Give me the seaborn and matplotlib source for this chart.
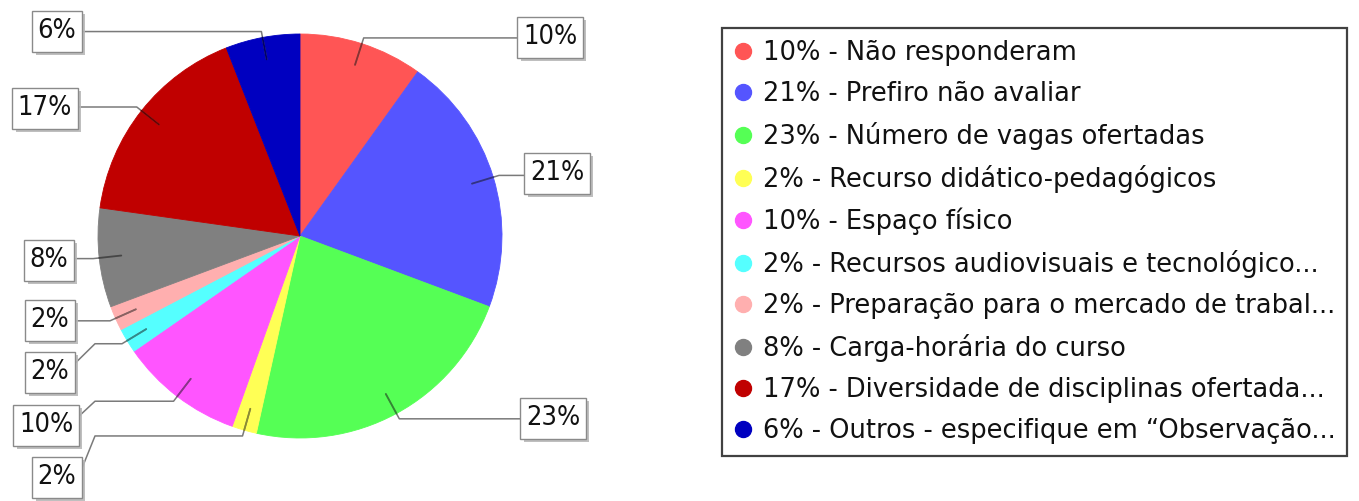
import numpy as np
import matplotlib
matplotlib.use("Agg")
import matplotlib.pyplot as plt
import seaborn as sns
from matplotlib import patheffects as pe
from matplotlib import font_manager as fm
from matplotlib.lines import Line2D
from matplotlib.patches import Rectangle
from matplotlib.colors import to_rgb

# ---- data ----
categories = [
    "Não responderam",
    "Prefiro não avaliar",
    "Número de vagas ofertadas",
    "Recurso didático-pedagógicos",
    "Espaço físico",
    "Recursos audiovisuais e tecnológico...",
    "Preparação para o mercado de trabal...",
    "Carga-horária do curso",
    "Diversidade de disciplinas ofertada...",
    "Outros - especifique em “Observação...",
]
percentages = [10, 21, 23, 2, 10, 2, 2, 8, 17, 6]
slice_colors = ["#FF5555", "#5555FF", "#55FF55", "#FFFF55", "#FF55FF",
                "#55FFFF", "#FFAFAF", "#808080", "#C00000", "#0000C0"]

# ---- layout (pixels, measured from the top-left corner) ----
W, H = 1359, 501
pie_center = (300, 236)
pie_radius = 202
label_centers = [(550, 37), (557, 173), (553, 418), (57, 477), (46, 425),
                 (50, 372), (50, 320), (49, 260), (45, 108), (57, 31)]
left_stub_x = 95
box_pad_x, box_pad_y = 5.5, 7.5

sns.set_theme(style="white")
plt.rcParams["font.family"] = ["DejaVu Sans"]

# a condensed cut of DejaVu Sans for the slice labels, if installed
label_stretch = "normal"
for f in fm.fontManager.ttflist:
    if f.name == "DejaVu Sans" and "ondensed" in f.fname and "Bold" not in f.fname and "Oblique" not in f.fname:
        label_stretch = "condensed"
        break

fig = plt.figure(figsize=(W / 100, H / 100), dpi=100)
fig.patch.set_facecolor("white")
ax = fig.add_axes([0, 0, 1, 1])

cx, cy = pie_center[0], H - pie_center[1]
palette = sns.color_palette(slice_colors)
wedges, _ = ax.pie(percentages, colors=palette, startangle=90, counterclock=False,
                   center=(cx, cy), radius=pie_radius, frame=True,
                   wedgeprops=dict(linewidth=0.6))
for w in wedges:
    w.set_edgecolor(w.get_facecolor())
ax.set_xlim(0, W)
ax.set_ylim(0, H)
ax.set_aspect("auto")
ax.set_axis_off()

# percentage labels
texts = []
for pct, (lx, ly) in zip(percentages, label_centers):
    t = ax.text(lx, H - ly, f"{pct}%", ha="center", va="center", fontsize=19.5,
                fontstretch=label_stretch, color="#111111", zorder=6)
    texts.append(t)

fig.canvas.draw()
renderer = fig.canvas.get_renderer()

boxes = []
for t in texts:
    bb = t.get_window_extent(renderer)
    x0, y0 = bb.x0 - box_pad_x, bb.y0 - box_pad_y
    bw, bh = bb.width + 2 * box_pad_x, bb.height + 2 * box_pad_y
    box = Rectangle((x0, y0), bw, bh, facecolor="white", edgecolor="#8a8a8a",
                    lw=1.0, zorder=5)
    box.set_path_effects([
        pe.SimplePatchShadow(offset=(2.5, -2.5), shadow_rgbFace="#b8b8b8", alpha=0.9),
        pe.Normal()])
    ax.add_patch(box)
    boxes.append((x0, y0, x0 + bw, y0 + bh))

# leader lines: tick inside the slice, elbow just past the rim, then out to the box
for w, (bx0, by0, bx1, by1), col in zip(wedges, boxes, slice_colors):
    mid = np.deg2rad((w.theta1 + w.theta2) / 2)
    ux, uy = np.cos(mid), np.sin(mid)
    inner = (cx + 0.89 * pie_radius * ux, cy + 0.89 * pie_radius * uy)
    rim = (cx + 1.0 * pie_radius * ux, cy + 1.0 * pie_radius * uy)
    elbow = (cx + 1.03 * pie_radius * ux, cy + 1.03 * pie_radius * uy)
    attach_y = float(np.clip(elbow[1], by0 + 12, by1 - 12))
    if bx1 < cx:
        stub_x = min(elbow[0], left_stub_x)
        attach_x = bx1
    else:
        stub_x = elbow[0]
        attach_x = bx0
    xs = [inner[0], elbow[0], stub_x, attach_x]
    ys = [inner[1], elbow[1], elbow[1], attach_y]
    ax.add_line(Line2D(xs, ys, color="#7a7a7a", lw=1.1, zorder=3))
    dark = tuple(0.55 * c for c in to_rgb(col))
    ax.add_line(Line2D([inner[0], rim[0]], [inner[1], rim[1]], color=dark, lw=1.3, zorder=3))

# legend
handles = [Line2D([], [], linestyle="none", marker="o", markersize=11.5,
                  markerfacecolor=c, markeredgecolor=c) for c in slice_colors]
labels = [f"{p}% - {c}" for p, c in zip(percentages, categories)]
leg = fig.legend(handles, labels, loc="upper left",
                 bbox_to_anchor=(722 / W, 1 - 28 / H), bbox_transform=fig.transFigure,
                 frameon=True, fancybox=False, shadow=False, fontsize=18.5,
                 borderaxespad=0, borderpad=0.45, handlelength=0.7,
                 handletextpad=0.45, labelspacing=0.585)
leg.get_frame().set_edgecolor("#111111")
leg.get_frame().set_linewidth(1.6)
for txt in leg.get_texts():
    txt.set_color("#111111")

fig.savefig("out.png", dpi=100, facecolor="white")
